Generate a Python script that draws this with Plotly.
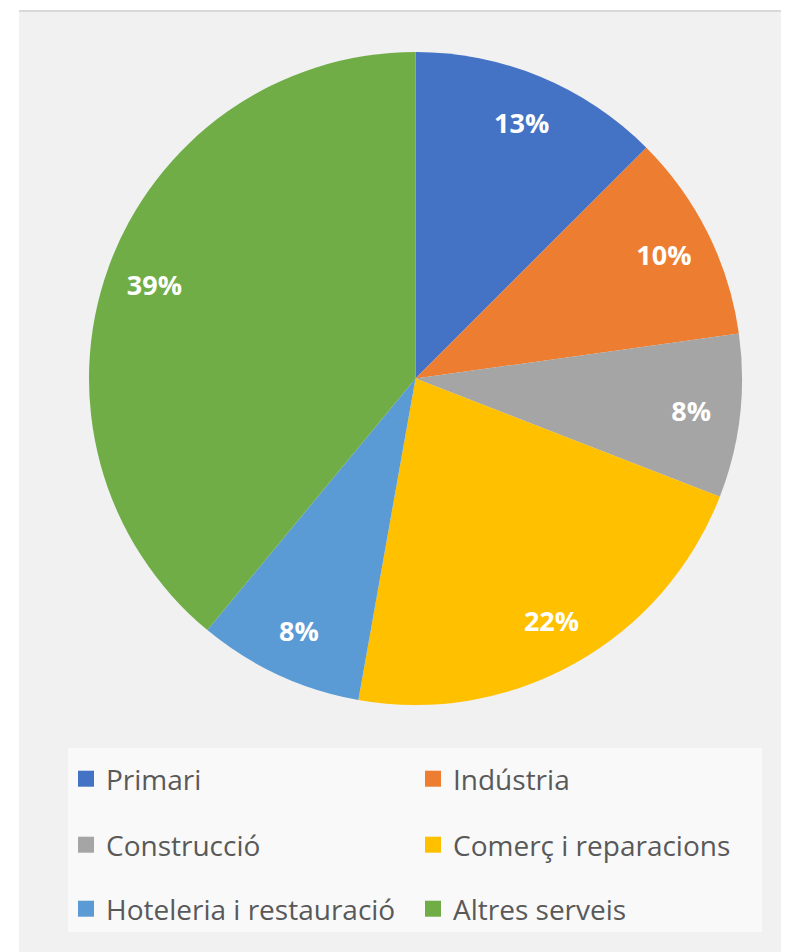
import plotly.graph_objects as go

categories = ["Primari", "Indústria", "Construcció", "Comerç i reparacions",
              "Hoteleria i restauració", "Altres serveis"]
values = [12.5, 10.3, 8.1, 21.9, 8.2, 39.0]
colors = ["#4472C4", "#ED7D31", "#A5A5A5", "#FFC000", "#5B9BD5", "#70AD47"]

OFF = 8  # page body margin
W, H = 789 - OFF, 952 - OFF


def px(v):
    return (v - OFF) / W


def py(v):
    return 1 - (v - OFF) / H


dom_x = [px(89), px(742)]
dom_y = [py(705), py(52)]

fig = go.Figure()
fig.add_trace(go.Pie(
    labels=categories, values=values, sort=False, direction="clockwise",
    rotation=0, marker=dict(colors=colors, line=dict(width=0)),
    textinfo="none", showlegend=False, domain=dict(x=dom_x, y=dom_y),
    hoverinfo="label+percent"))
# transparent ring used only to place the percentage labels near the rim
fig.add_trace(go.Pie(
    labels=categories, values=values, sort=False, direction="clockwise",
    rotation=0, hole=0.7,
    marker=dict(colors=["rgba(0,0,0,0)"] * len(values), line=dict(width=0)),
    texttemplate="%{percent:.0%}", textposition="inside",
    insidetextorientation="horizontal",
    insidetextfont=dict(family="Open Sans", size=27, color="white", weight="bold"),
    showlegend=False, domain=dict(x=dom_x, y=dom_y), hoverinfo="skip"))

# legend entries (three rows, two columns)
legend_names = ["legend", "legend2", "legend3"]
for i, (cat, col) in enumerate(zip(categories, colors)):
    fig.add_trace(go.Scatter(
        x=[None], y=[None], mode="markers", name=cat,
        marker=dict(symbol="square", size=18, color=col),
        legend=legend_names[i // 2], showlegend=True))

row_y = [779, 845, 909]
leg_common = dict(orientation="h", xanchor="left", yanchor="middle",
                  x=(66 - OFF) / W, entrywidth=302, entrywidthmode="pixels",
                  bgcolor="rgba(0,0,0,0)",
                  font=dict(family="Open Sans", size=28, color="#595959"),
                  itemclick=False, itemdoubleclick=False)
layout_legends = {}
for name, ry in zip(legend_names, row_y):
    layout_legends[name] = dict(leg_common, y=py(ry))

fig.update_layout(
    width=W, height=H,
    margin=dict(l=0, r=0, t=0, b=0),
    paper_bgcolor="white", plot_bgcolor="rgba(0,0,0,0)",
    xaxis=dict(visible=False), yaxis=dict(visible=False),
    shapes=[
        dict(type="rect", xref="paper", yref="paper", x0=px(19), x1=1.02,
             y0=-0.02, y1=py(10), fillcolor="#f1f1f1",
             line=dict(width=0), layer="below"),
        dict(type="line", xref="paper", yref="paper", x0=px(19), x1=1.02,
             y0=py(11), y1=py(11), line=dict(color="#d9d9d9", width=2),
             layer="below"),
        dict(type="rect", xref="paper", yref="paper", x0=px(68), x1=px(762),
             y0=py(932), y1=py(748), fillcolor="rgba(255,255,255,0.6)",
             line=dict(width=0), layer="below"),
    ],
    **layout_legends,
)

fig.write_html("out.html")
